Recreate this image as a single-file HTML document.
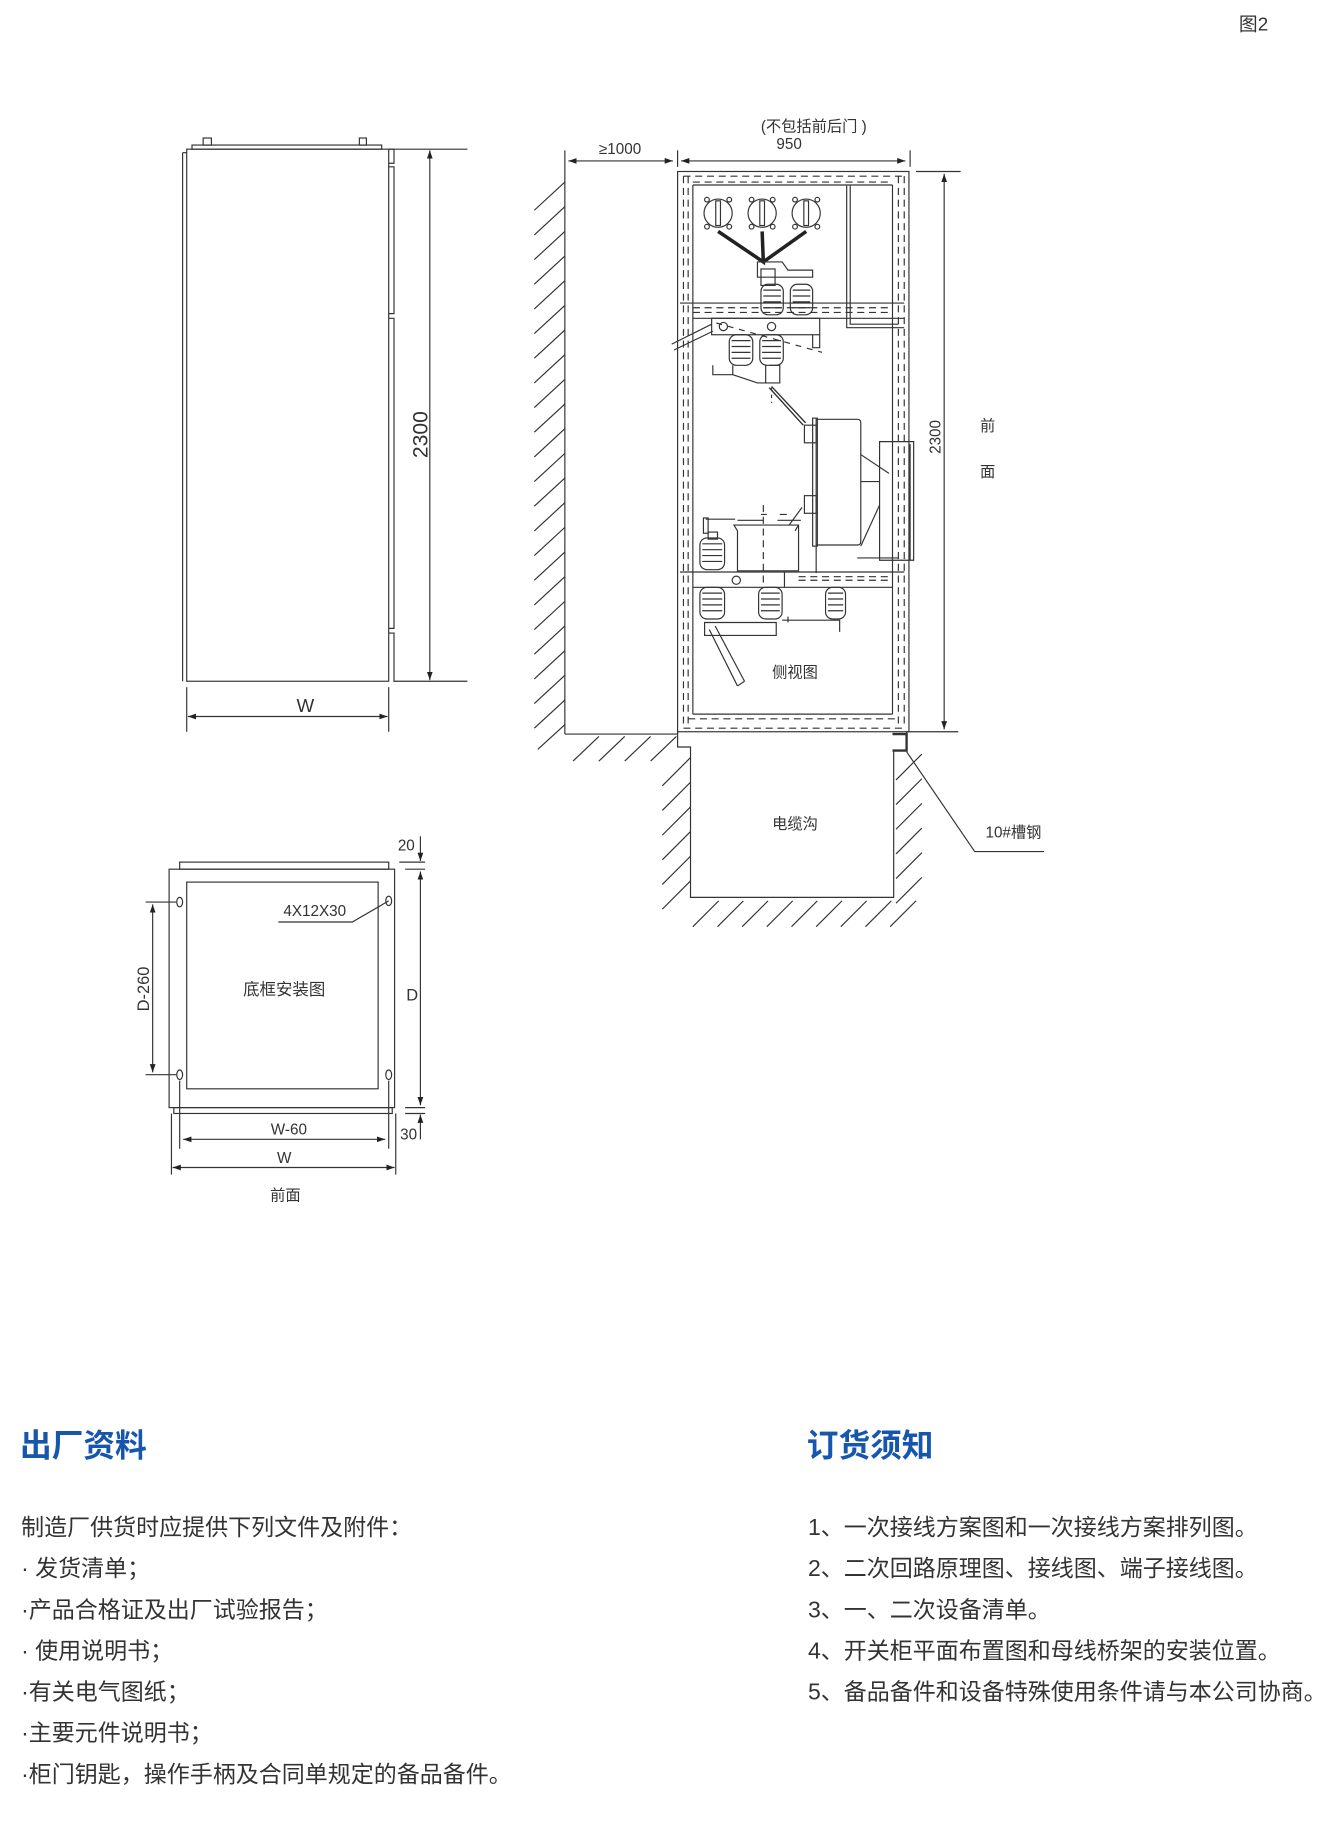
<!DOCTYPE html>
<html><head><meta charset="utf-8"><style>
html,body{margin:0;padding:0;background:#fff;}
svg{display:block;}
text{font-family:"Liberation Sans","Noto Sans CJK SC",sans-serif;fill:#333;}
</style></head><body>
<svg width="1327" height="1837" viewBox="0 0 1130 1564" preserveAspectRatio="none" xmlns="http://www.w3.org/2000/svg">
<defs>
<marker id="a" viewBox="0 0 10 10" refX="10" refY="5" markerWidth="7" markerHeight="7" orient="auto-start-reverse"><path d="M0,1.5 L10,5 L0,8.5z" fill="#222"/></marker>
</defs>
<rect width="1130" height="1564" fill="#fff"/>
<text x="1055" y="26" font-size="16" fill="#777">图2</text>

<g stroke="#333" stroke-width="1" fill="none">
<!-- Front cabinet -->
<rect x="159" y="127" width="172" height="453"/>
<line x1="155.5" y1="130" x2="155.5" y2="580"/>
<line x1="155.5" y1="130" x2="159" y2="130"/>
<rect x="163.5" y="123.5" width="161.5" height="3.5"/>
<rect x="173" y="117.5" width="7" height="6"/>
<rect x="306" y="117.5" width="6" height="6"/>
<path d="M331 127 H335.5 V139 H331 M331 142 H335.5 V267 H331 M331 271 H335.5 V535 H331 M331 539 H335.5 V580"/>
<line x1="331" y1="127" x2="398" y2="127"/>
<line x1="335" y1="580" x2="398" y2="580"/>
<line x1="366" y1="128" x2="366" y2="579" marker-start="url(#a)" marker-end="url(#a)"/>
<line x1="159" y1="585" x2="159" y2="623"/>
<line x1="331" y1="585" x2="331" y2="623"/>
<line x1="160" y1="610" x2="330" y2="610" marker-start="url(#a)" marker-end="url(#a)"/>

<!-- Side view wall -->
<line x1="481" y1="128" x2="481" y2="625"/>
<line x1="481" y1="625" x2="577" y2="625"/>
<path d="M481 155 L455 179 M481 176 L455 200 M481 197 L455 221 M481 218 L455 242 M481 239 L455 263 M481 260 L455 284 M481 281 L455 305 M481 302 L455 326 M481 323 L455 347 M481 344 L455 368 M481 365 L455 389 M481 386 L455 410 M481 407 L455 431 M481 428 L455 452 M481 449 L455 473 M481 470 L455 494 M481 491 L455 515 M481 512 L455 536 M481 533 L455 557 M481 554 L455 578 M481 575 L455 599 M481 596 L455 620 M481 617 L458 638"/>
<path d="M510 627 L488 648 M532 627 L510 648 M554 627 L532 648 M576 627 L554 648"/>
<path d="M588 645 L564 669 M588 666 L564 690 M588 687 L564 711 M588 708 L564 732 M588 729 L564 753 M588 750 L564 774"/>
<path d="M785 642 L763 664 M785 663 L763 685 M785 684 L763 706 M785 705 L763 727 M785 726 L763 748 M785 747 L763 769"/>
<path d="M612 767 L590 789 M633 767 L611 789 M654 767 L632 789 M675 767 L653 789 M696 767 L674 789 M717 767 L695 789 M738 767 L716 789 M759 767 L737 789 M780 767 L758 789"/>

<!-- dims top -->
<line x1="577" y1="128" x2="577" y2="142"/>
<line x1="775" y1="128" x2="775" y2="142"/>
<line x1="484" y1="137" x2="573" y2="137" marker-start="url(#a)" marker-end="url(#a)"/>
<line x1="580" y1="137" x2="771" y2="137" marker-start="url(#a)" marker-end="url(#a)"/>
<line x1="780" y1="146" x2="818" y2="146"/>
<line x1="772" y1="623" x2="816" y2="623"/>
<line x1="804" y1="148" x2="804" y2="621" marker-start="url(#a)" marker-end="url(#a)"/>

<!-- cabinet -->
<rect x="577" y="146" width="197" height="477"/>
<line x1="590" y1="157.5" x2="590" y2="608"/>
<line x1="760" y1="157.5" x2="760" y2="608"/>
<line x1="590" y1="157.5" x2="760" y2="157.5"/>
<line x1="590" y1="608" x2="760" y2="608"/>
<g stroke-dasharray="6,4">
<line x1="582" y1="150" x2="582" y2="620"/>
<line x1="586" y1="150" x2="586" y2="620"/>
<line x1="765" y1="150" x2="765" y2="620"/>
<line x1="770" y1="150" x2="770" y2="620"/>
<line x1="582" y1="150" x2="770" y2="150"/>
<line x1="590" y1="155" x2="760" y2="155"/>
<line x1="586" y1="612" x2="765" y2="612"/>
<line x1="582" y1="620" x2="770" y2="620"/>
<line x1="590" y1="262" x2="760" y2="262"/>
<line x1="590" y1="266" x2="760" y2="266"/>
<line x1="680" y1="491" x2="760" y2="491"/>
<line x1="680" y1="494" x2="760" y2="494"/>
<line x1="650" y1="430" x2="650" y2="500"/>
</g>
<line x1="579" y1="258" x2="770" y2="258"/>
<line x1="590" y1="271" x2="770" y2="271"/>
<path d="M721 158 V279 H770"/>
<path d="M724 158 V276 H765"/>
<g>
<circle cx="611.5" cy="181.5" r="12"/><circle cx="649" cy="181.5" r="12"/><circle cx="686.5" cy="181.5" r="12"/>
<rect x="609.5" y="171" width="4" height="21"/><rect x="647" y="171" width="4" height="21"/><rect x="684.5" y="171" width="4" height="21"/>
<circle cx="602" cy="170" r="2"/><circle cx="621" cy="170" r="2"/><circle cx="602" cy="193" r="2"/><circle cx="621" cy="193" r="2"/>
<circle cx="640" cy="170" r="2"/><circle cx="658" cy="170" r="2"/><circle cx="640" cy="193" r="2"/><circle cx="658" cy="193" r="2"/>
<circle cx="677" cy="170" r="2"/><circle cx="696" cy="170" r="2"/><circle cx="677" cy="193" r="2"/><circle cx="696" cy="193" r="2"/>
</g>
<path d="M611.5 197 L650 223 L649 197 M650 223 L686.5 197" stroke-width="3" stroke="#222"/>
<path d="M645 223 H666 L671 230 H692 V236 H645 Z"/>
<rect x="648" y="229" width="12" height="14"/>
<g>
<rect x="648" y="242" width="19" height="26" rx="6"/>
<rect x="673" y="242" width="19" height="26" rx="6"/>
<path d="M650 247 H665 M650 252 H665 M650 257 H665 M650 262 H665 M675 247 H690 M675 252 H690 M675 257 H690 M675 262 H690"/>
</g>
<rect x="606" y="271" width="92" height="14"/>
<circle cx="616" cy="278" r="3.5"/><circle cx="657" cy="278" r="3.5"/>
<path d="M572 293 L606 276 M574 298 L607 282"/>
<g>
<rect x="621" y="285" width="20" height="26" rx="6"/>
<rect x="647" y="285" width="20" height="26" rx="6"/>
<path d="M623 290 H639 M623 295 H639 M623 300 H639 M623 305 H639 M649 290 H665 M649 295 H665 M649 300 H665 M649 305 H665"/>
</g>
<path d="M607 311 V319 H624 V311 M624 319 L645 326 H664 V311 H655"/>
<path d="M652 311 V326"/>
<path d="M655 330 L684 362 M657 329 L686 360" stroke-width="1.2"/>
<path d="M610 275 L700 300" stroke-dasharray="5,5"/>
<path d="M657 330 V343" stroke-dasharray="3,3"/>
<path d="M692 285 V296 H698 V285"/>
<path d="M695 357 H730 Q733 357 733 360 V461 Q733 464 730 464 H695 Z"/>
<rect x="692" y="356" width="4" height="109"/>
<rect x="685" y="362" width="10" height="15"/><rect x="685" y="422" width="10" height="15"/>
<path d="M733 387 L757 403 M733 410 H749 M749 376 H778 V477 H749 Z M749 403 V430 L733 465"/>
<line x1="775" y1="378" x2="775" y2="477"/>
<path d="M695 465 V488 M730 475 H765"/>
<path d="M625 447 H680 V486 H628 V452 Z M625 447 L628 452 M680 447 L677 452"/>
<path d="M628 443 H650 M662 443 H682 M648 438 H653 M664 438 H670 M672 447 L683 432"/>
<rect x="599" y="441" width="4" height="13"/>
<path d="M601 442 H626"/>
<rect x="596" y="458" width="21" height="27" rx="6"/>
<path d="M598 463 H615 M598 468 H615 M598 473 H615 M598 478 H615"/>
<rect x="603" y="453" width="8" height="6"/>
<line x1="579" y1="487" x2="770" y2="487"/>
<line x1="590" y1="500" x2="760" y2="500"/>
<line x1="668" y1="487" x2="668" y2="500"/>
<circle cx="627" cy="494" r="3.5"/>
<rect x="596" y="500" width="21" height="27" rx="6"/>
<rect x="646" y="500" width="20" height="27" rx="6"/>
<rect x="703" y="500" width="17" height="27" rx="6"/>
<path d="M598 505 H615 M598 510 H615 M598 515 H615 M598 520 H615 M648 505 H664 M648 510 H664 M648 515 H664 M648 520 H664 M705 505 H718 M705 510 H718 M705 515 H718 M705 520 H718"/>
<path d="M600 530 H661 V541 H600 Z M666 528 H715 V538 M671 525 V530"/>
<path d="M604 536 L628 584 M609 533 L634 580 M628 584 L634 580"/>
<path d="M577 623 V636 H588 V764 H761 V639 H772 V623"/>
<path d="M760 625 H772 V639 H760" stroke-width="2"/>
<path d="M772 640 L830 725 H889"/>

<!-- Plan view -->
<rect x="144" y="740" width="192" height="203"/>
<rect x="159" y="751" width="163" height="176"/>
<rect x="153" y="734" width="178" height="6"/>
<rect x="148" y="943" width="186" height="5"/>
<ellipse cx="153" cy="768" rx="2.5" ry="4"/><ellipse cx="153" cy="915" rx="2.5" ry="4"/>
<ellipse cx="331" cy="767" rx="2.5" ry="4"/><ellipse cx="331" cy="915" rx="2.5" ry="4"/>
<line x1="124" y1="768" x2="150" y2="768"/>
<line x1="124" y1="915" x2="150" y2="915"/>
<line x1="130" y1="770" x2="130" y2="913" marker-start="url(#a)" marker-end="url(#a)"/>
<line x1="340" y1="734" x2="362" y2="734"/>
<line x1="345" y1="740" x2="362" y2="740"/>
<line x1="345" y1="943" x2="362" y2="943"/>
<line x1="345" y1="948" x2="362" y2="948"/>
<line x1="358" y1="742" x2="358" y2="941" marker-start="url(#a)" marker-end="url(#a)"/>
<line x1="358" y1="712" x2="358" y2="733" marker-end="url(#a)"/>
<line x1="358" y1="970" x2="358" y2="949" marker-end="url(#a)"/>
<line x1="153" y1="920" x2="153" y2="978"/>
<line x1="331" y1="920" x2="331" y2="978"/>
<line x1="146" y1="948" x2="146" y2="1000"/>
<line x1="337" y1="948" x2="337" y2="1000"/>
<line x1="156" y1="970" x2="328" y2="970" marker-start="url(#a)" marker-end="url(#a)"/>
<line x1="147" y1="994" x2="336" y2="994" marker-start="url(#a)" marker-end="url(#a)"/>
<path d="M237 785 H300 L331 767"/>
</g>

<g font-size="13">
<text x="260" y="606" text-anchor="middle" font-size="16">W</text>
<text transform="translate(364,370) rotate(-90)" text-anchor="middle" font-size="18">2300</text>
<text x="528" y="131" text-anchor="middle">≥1000</text>
<text x="693" y="112" text-anchor="middle">(不包括前后门 )</text>
<text x="672" y="127" text-anchor="middle">950</text>
<text transform="translate(801,372) rotate(-90)" text-anchor="middle">2300</text>
<text x="841" y="367" text-anchor="middle">前</text>
<text x="841" y="406" text-anchor="middle">面</text>
<text x="677" y="577" text-anchor="middle">侧视图</text>
<text x="677" y="706" text-anchor="middle">电缆沟</text>
<text x="863" y="713" text-anchor="middle">10#槽钢</text>
<text x="346" y="724" text-anchor="middle">20</text>
<text x="268" y="780" text-anchor="middle">4X12X30</text>
<text x="242" y="847" text-anchor="middle" font-size="14">底框安装图</text>
<text transform="translate(127,842) rotate(-90)" text-anchor="middle" font-size="14">D-260</text>
<text x="351" y="852" text-anchor="middle" font-size="14">D</text>
<text x="348" y="970" text-anchor="middle">30</text>
<text x="246" y="966" text-anchor="middle">W-60</text>
<text x="242" y="990" text-anchor="middle">W</text>
<text x="243" y="1022" text-anchor="middle">前面</text>
</g>

<g font-size="27" font-weight="bold">
<text x="17" y="1240" style="fill:#1656ad">出厂资料</text>
<text x="687" y="1240" style="fill:#1656ad">订货须知</text>
</g>
<g font-size="19.6">
<text x="18" y="1307">制造厂供货时应提供下列文件及附件：</text>
<text x="18" y="1342">· 发货清单；</text>
<text x="18" y="1377">·产品合格证及出厂试验报告；</text>
<text x="18" y="1412">· 使用说明书；</text>
<text x="18" y="1447">·有关电气图纸；</text>
<text x="18" y="1482">·主要元件说明书；</text>
<text x="18" y="1517">·柜门钥匙，操作手柄及合同单规定的备品备件。</text>
<text x="688" y="1307">1、一次接线方案图和一次接线方案排列图。</text>
<text x="688" y="1342">2、二次回路原理图、接线图、端子接线图。</text>
<text x="688" y="1377">3、一、二次设备清单。</text>
<text x="688" y="1412">4、开关柜平面布置图和母线桥架的安装位置。</text>
<text x="688" y="1447">5、备品备件和设备特殊使用条件请与本公司协商。</text>
</g>
</svg>
</body></html>
